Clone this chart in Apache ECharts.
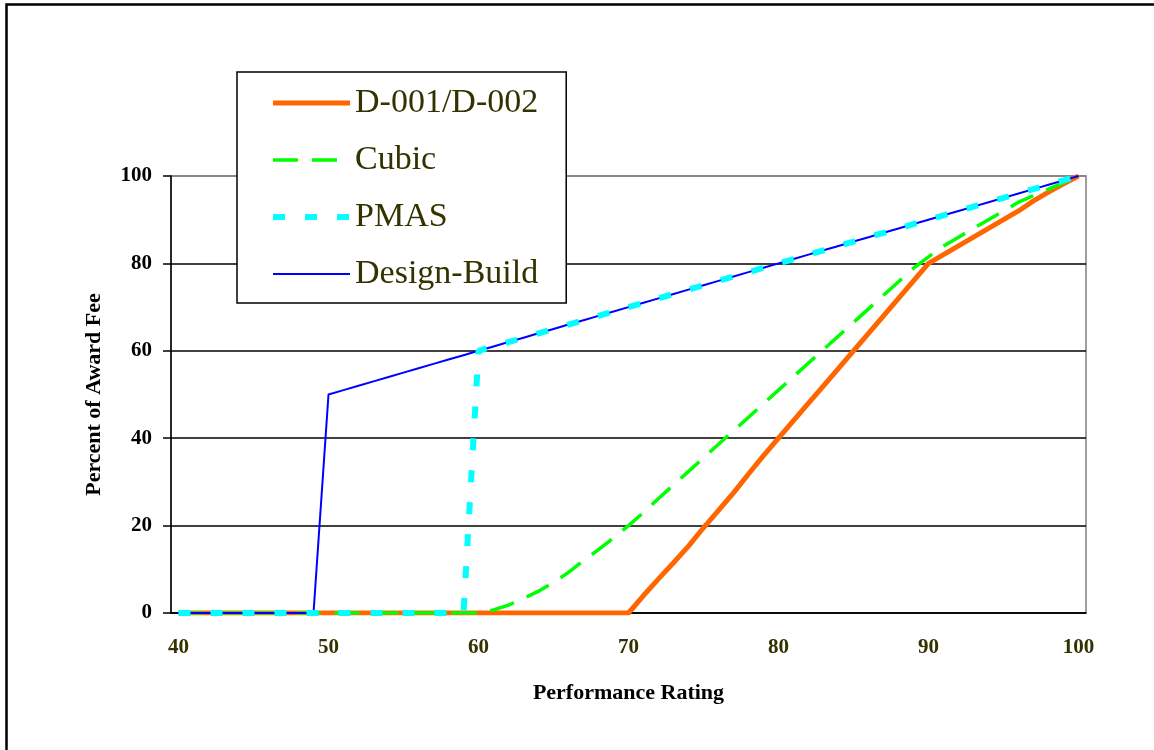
<!DOCTYPE html>
<html>
<head>
<meta charset="utf-8">
<script src="https://cdn.jsdelivr.net/npm/echarts@6/dist/echarts.min.js"></script>
<style>
html,body{margin:0;padding:0;background:#fff;}
#c{width:1154px;height:750px;}
</style>
</head>
<body>
<div id="c"></div>
<script>
var categories = ['40','41','42','43','44','45','46','47','48','49','50','51','52','53','54','55','56','57','58','59','60','61','62','63','64','65','66','67','68','69','70','71','72','73','74','75','76','77','78','79','80','81','82','83','84','85','86','87','88','89','90','91','92','93','94','95','96','97','98','99','100'];

var seriesNames = ['D-001/D-002','Cubic','PMAS','Design-Build'];

// 40..70 zero, then 71..100
var d001 = [0,0,0,0,0,0,0,0,0,0,
            0,0,0,0,0,0,0,0,0,0,
            0,0,0,0,0,0,0,0,0,0,
            0,
            4,7.8,11.5,15.3,19.5,23.5,27.5,31.8,36,40,
            44,48,52,56,60,64,68,72,76,80,
            82,84,86,88,90,92,94.3,96.3,98.2,100];

// 40..60 zero, then 61..100
var cubic = [0,0,0,0,0,0,0,0,0,0,
             0,0,0,0,0,0,0,0,0,0,
             0,
             0.7,1.8,3.3,5,7,9.3,12,14.5,17.2,20,
             23,26.2,29.3,32.4,35.5,38.6,41.7,44.8,47.9,51,
             54.1,57.2,60.3,63.4,66.5,69.6,72.7,75.8,78.9,81.5,
             84,86,88,90,92,94,95.5,97,98.5,100];

// 40..59 zero, then 60..100
var pmas = [0,0,0,0,0,0,0,0,0,0,
            0,0,0,0,0,0,0,0,0,0,
            60,61,62,63,64,65,66,67,68,69,
            70,71,72,73,74,75,76,77,78,79,
            80,81,82,83,84,85,86,87,88,89,
            90,91,92,93,94,95,96,97,98,99,100];

// 40..49 zero, then 50..100
var designBuild = [0,0,0,0,0,0,0,0,0,0,
                   50,51,52,53,54,55,56,57,58,59,
                   60,61,62,63,64,65,66,67,68,69,
                   70,71,72,73,74,75,76,77,78,79,
                   80,81,82,83,84,85,86,87,88,89,
                   90,91,92,93,94,95,96,97,98,99,100];

var yTicks = [0,20,40,60,80,100];

var chart = echarts.init(document.getElementById('c'), null, {renderer:'canvas'});
var serif = 'Liberation Serif, Times New Roman, serif';

chart.setOption({
  animation:false,
  backgroundColor:'#fff',
  grid:{left:171, right:68, top:176, bottom:137, show:true, borderColor:'#808080', borderWidth:1.5},
  legend:{
    orient:'vertical', left:237, top:72,
    padding:[14,28,12,33], itemGap:23,
    itemWidth:77, itemHeight:14,
    borderColor:'#000', borderWidth:1.5, backgroundColor:'#fff',
    itemStyle:{opacity:0},
    lineStyle:{width:'inherit', type:'inherit'},
    textStyle:{fontFamily:serif, fontSize:34, color:'#333300', lineHeight:34},
    data:seriesNames
  },
  xAxis:{
    type:'category', data:categories, boundaryGap:true,
    axisLine:{lineStyle:{color:'#000', width:1.5}},
    axisTick:{show:false},
    axisLabel:{interval:9, margin:24, fontFamily:serif, fontWeight:'bold', fontSize:21, color:'#333300'},
    name:'Performance Rating', nameLocation:'middle', nameGap:69,
    nameTextStyle:{fontFamily:serif, fontWeight:'bold', fontSize:22, color:'#000'},
    splitLine:{show:false}
  },
  yAxis:{
    type:'value', min:yTicks[0], max:yTicks[yTicks.length-1], interval:20,
    axisLine:{show:true, lineStyle:{color:'#000', width:1.5}},
    axisTick:{show:true, length:8, lineStyle:{color:'#000', width:1.5}},
    axisLabel:{margin:19, fontFamily:serif, fontWeight:'bold', fontSize:21, color:'#000'},
    splitLine:{show:true, lineStyle:{color:['#000','#000','#000','#000','#000','#808080'], width:1.5}},
    name:'Percent of Award Fee', nameLocation:'middle', nameGap:66,
    nameTextStyle:{fontFamily:serif, fontWeight:'bold', fontSize:22, color:'#000'}
  },
  series:[
    {name:seriesNames[0], type:'line', data:d001, symbol:'none', z:2,
     lineStyle:{color:'#FF6600', width:5}, itemStyle:{color:'#FF6600'}},
    {name:seriesNames[1], type:'line', data:cubic, symbol:'none', z:3,
     lineStyle:{color:'#00FF00', width:3.5, type:[25,14]}, itemStyle:{color:'#00FF00'}},
    {name:seriesNames[2], type:'line', data:pmas, symbol:'none', z:5,
     lineStyle:{color:'#00FFFF', width:6, type:[12,20]}, itemStyle:{color:'#00FFFF'}},
    {name:seriesNames[3], type:'line', data:designBuild, symbol:'none', z:4,
     lineStyle:{color:'#0000FF', width:2}, itemStyle:{color:'#0000FF'}}
  ],
  graphic:[
    {type:'rect', left:4, top:2, shape:{x:0,y:0,width:1200,height:800}, silent:true, z:100,
     style:{fill:null, stroke:'#000', lineWidth:2.5}}
  ]
});
</script>
</body>
</html>
